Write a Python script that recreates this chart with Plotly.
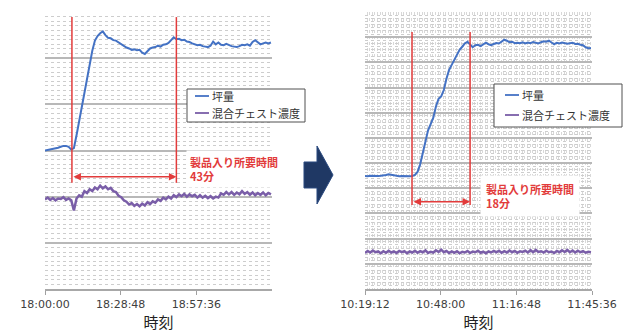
import plotly.graph_objects as go
import pandas as pd

# ---------------- data ----------------
tick_labels_left = ["18:00:00", "18:28:48", "18:57:36"]
tick_labels_right = ["10:19:12", "10:48:00", "11:16:48", "11:45:36"]
series_names = ["坪量", "混合チェスト濃度"]
axis_title = "時刻"

left_start = "2020-01-01 18:00:00"
left_end = "2020-01-01 19:26:24"
right_start = "2020-01-01 10:19:12"
right_end = "2020-01-01 11:45:36"

# basis weight (left, before), one value per minute
left_basis = [30.0, 30.1, 30.2, 30.3, 30.4, 30.6, 30.8, 31.0, 31.0, 30.8,
              30.2, 30.5, 33.3, 36.3, 39.8, 42.3, 45.5, 48.6, 51.6, 53.8,
              54.8, 55.4, 55.8, 55.0, 54.4, 54.3, 53.9, 53.8, 53.4, 53.0,
              52.6, 52.3, 52.1, 51.8, 51.9, 51.7, 51.8, 51.2, 50.9, 51.5,
              52.1, 52.3, 52.4, 52.7, 52.5, 52.9, 53.0, 53.3, 53.8, 54.5,
              54.1, 54.2, 53.9, 54.0, 53.6, 53.5, 53.2, 53.0, 52.8, 52.9,
              52.6, 52.5, 52.4, 52.7, 53.6, 53.0, 53.4, 52.9, 52.8, 53.1,
              52.8, 52.6, 52.5, 52.4, 52.6, 52.9, 52.8, 53.0, 52.7, 53.5,
              53.9, 53.4, 53.0, 53.2, 53.4, 53.2, 53.4]
# mixing chest consistency (left, before)
left_consistency = [19.4, 19.8, 19.3, 19.7, 19.2, 19.6, 19.5, 19.9, 19.3, 19.6,
                    19.2, 17.0, 19.6, 20.3, 20.0, 21.2, 20.8, 21.6, 21.2, 22.0,
                    21.6, 22.4, 21.8, 22.2, 21.6, 21.9, 21.2, 21.0, 20.2, 19.9,
                    19.2, 18.9, 18.3, 18.6, 18.0, 18.4, 17.9, 18.5, 18.1, 18.8,
                    18.4, 19.0, 18.7, 19.4, 19.1, 19.8, 19.4, 20.0, 19.6, 20.3,
                    19.9, 20.5, 20.1, 20.6, 20.0, 20.5, 20.1, 20.4, 19.8, 20.3,
                    19.8, 20.2, 19.7, 20.1, 19.6, 20.0, 19.8, 20.7, 20.4, 21.0,
                    20.5, 21.0, 20.4, 20.9, 20.5, 21.2, 20.6, 21.0, 20.4, 20.9,
                    20.3, 20.8, 20.4, 20.9, 20.3, 20.8, 20.5]

# basis weight (right, after)
right_basis = [44.9, 44.8, 45.0, 44.9, 44.8, 44.9, 45.0, 45.1, 45.3, 45.6,
               45.4, 45.1, 44.9, 44.8, 44.9, 44.8, 44.9, 44.8, 44.9, 45.3,
               46.5, 49.5, 54.0, 58.5, 63.0, 65.5, 68.0, 72.5, 75.5, 76.5,
               79.0, 83.5, 87.0, 89.0, 91.0, 93.0, 95.0, 96.2, 97.5, 98.2,
               97.2, 96.0, 96.8, 97.0, 96.5, 97.3, 97.8, 97.2, 96.8, 97.3,
               97.7, 97.5, 98.3, 99.0, 98.6, 98.0, 98.2, 97.6, 97.8, 97.6,
               98.0, 97.5, 97.9, 97.6, 98.1, 97.7, 97.5, 98.0, 98.4, 98.2,
               98.6, 97.9, 97.2, 97.8, 97.5, 97.9, 97.7, 97.4, 97.6, 97.8,
               97.3, 97.4, 97.0, 96.8, 96.0, 95.6, 95.7]
# mixing chest consistency (right, after)
right_consistency = [14.3, 15.1, 14.5, 15.3, 14.6, 14.9, 14.2, 15.0, 14.4, 15.2,
                     14.5, 14.9, 14.3, 15.1, 14.6, 15.0, 14.2, 14.9, 14.5, 15.2,
                     14.4, 15.0, 14.6, 15.3, 14.3, 14.8, 14.5, 15.4, 14.7, 15.6,
                     14.6, 15.1, 14.3, 14.9, 14.4, 15.0, 14.2, 14.8, 14.5, 15.1,
                     14.3, 14.9, 14.6, 15.2, 14.4, 14.8, 14.2, 14.9, 14.5, 15.1,
                     14.6, 15.2, 14.4, 15.0, 14.5, 15.3, 14.6, 15.1, 14.4, 15.0,
                     14.7, 15.2, 14.5, 15.4, 14.6, 15.5, 14.7, 15.0, 14.5, 15.2,
                     14.6, 14.9, 14.3, 15.1, 14.6, 15.4, 14.7, 15.5, 14.6, 15.3,
                     14.5, 15.2, 14.6, 15.0, 14.4, 14.8, 14.6]

# product-entry window markers
left_marks = ["2020-01-01 18:10:15", "2020-01-01 18:50:00"]
right_marks = ["2020-01-01 10:37:06", "2020-01-01 10:59:12"]
left_label = "製品入り所要時間<br>43分"
right_label = "製品入り所要時間<br>18分"

# ---------------- figure ----------------
W, H = 632, 336
def px(x): return x / W
def py(y): return 1 - y / H

left_x = pd.date_range(left_start, periods=len(left_basis), freq="1min")
right_x = pd.date_range(right_start, periods=len(right_basis), freq="1min")

BLUE = "#4472c4"
PURPLE = "#7a5ea8"
RED = "#e23b3b"
FONT = "Noto Sans CJK JP"

fig = go.Figure()
fig.add_trace(go.Scatter(x=left_x, y=left_basis, name=series_names[0], mode="lines",
                         line=dict(color=BLUE, width=2), xaxis="x", yaxis="y"))
fig.add_trace(go.Scatter(x=left_x, y=left_consistency, name=series_names[1], mode="lines",
                         line=dict(color=PURPLE, width=2.5), xaxis="x", yaxis="y"))
fig.add_trace(go.Scatter(x=right_x, y=right_basis, name=series_names[0], mode="lines",
                         line=dict(color=BLUE, width=2), xaxis="x2", yaxis="y2"))
fig.add_trace(go.Scatter(x=right_x, y=right_consistency, name=series_names[1], mode="lines",
                         line=dict(color=PURPLE, width=2.5), xaxis="x2", yaxis="y2"))

ydom = [py(289), py(12)]
MAJ = "#b8b8b8"
MIN = "#cdcdcd"

def xaxis(dom, start, end, labels, anchor):
    vals = pd.date_range(start, periods=len(labels), freq="1728s")
    return dict(domain=dom, type="date", range=[start, end], anchor=anchor,
                tickvals=vals, ticktext=labels, ticks="outside", ticklen=4,
                tickcolor="#a0a0a0", showline=True, linecolor="#a8a8a8", linewidth=1.5,
                showgrid=False, zeroline=False, automargin=False,
                tickfont=dict(family="DejaVu Sans", size=11, color="#404040"),
                title=dict(text=axis_title, font=dict(family=FONT, size=15, color="#222"), standoff=7))

fig.update_layout(
    width=W, height=H, margin=dict(l=0, r=0, t=0, b=0, autoexpand=False),
    paper_bgcolor="white", plot_bgcolor="white", showlegend=False,
    xaxis=xaxis([px(45), px(272)], left_start, left_end, tick_labels_left, "y"),
    xaxis2=xaxis([px(365), px(592)], right_start, right_end, tick_labels_right, "y2"),
    yaxis=dict(domain=ydom, range=[0, 60], dtick=10, showticklabels=False, ticks="",
               showgrid=True, gridcolor=MAJ, gridwidth=1.5, zeroline=False, anchor="x",
               automargin=False,
               minor=dict(dtick=1, showgrid=True, gridcolor=MIN, griddash="dot", gridwidth=1)),
    yaxis2=dict(domain=ydom, range=[0, 110], dtick=10, showticklabels=False, ticks="",
                showgrid=True, gridcolor=MAJ, gridwidth=1.5, zeroline=False, anchor="x2",
                automargin=False,
                minor=dict(dtick=1.25, showgrid=True, gridcolor=MIN, griddash="dot", gridwidth=1)),
)
fig.layout.xaxis2.minor = dict(dtick=60000, showgrid=True, gridcolor="#d8d8d8", griddash="dot", gridwidth=1)

# red marker lines
for xv in left_marks:
    fig.add_shape(type="line", xref="x", yref="y", x0=xv, x1=xv, y0=23.0, y1=58.9,
                  line=dict(color=RED, width=1.5))
for xv in right_marks:
    fig.add_shape(type="line", xref="x2", yref="y2", x0=xv, x1=xv, y0=33.4, y1=102.1,
                  line=dict(color=RED, width=1.5))

# double-headed arrows
fig.add_annotation(x=left_marks[1], y=24.3, ax=left_marks[0], ay=24.3, xref="x", yref="y",
                   axref="x", ayref="y", text="", showarrow=True, arrowside="end+start",
                   arrowhead=2, arrowsize=1, arrowwidth=1.5, arrowcolor=RED, standoff=0, startstandoff=0)
fig.add_annotation(x=right_marks[1], y=34.6, ax=right_marks[0], ay=34.6, xref="x2", yref="y2",
                   axref="x2", ayref="y2", text="", showarrow=True, arrowside="end+start",
                   arrowhead=2, arrowsize=1, arrowwidth=1.5, arrowcolor=RED, standoff=0, startstandoff=0)

# labels
fig.add_annotation(x=px(186), y=py(150), xref="paper", yref="paper", xanchor="left", yanchor="top",
                   text="<b>" + left_label + "</b>", showarrow=False, align="left",
                   bgcolor="white", borderpad=3,
                   font=dict(family=FONT, size=11, color=RED))
fig.add_annotation(x=px(480), y=py(175), xref="paper", yref="paper", xanchor="left", yanchor="top",
                   text="<b>" + right_label + "</b>", showarrow=False, align="left",
                   bgcolor="white", borderpad=5,
                   font=dict(family=FONT, size=11, color=RED))

# legend boxes (drawn from the series names / colours)
def legend_box(x0, x1, y0, y1, rows, sx0, sx1):
    fig.add_shape(type="rect", xref="paper", yref="paper", x0=px(x0), x1=px(x1),
                  y0=py(y1), y1=py(y0), fillcolor="white", line=dict(color="#505050", width=1))
    for (yy, name, col) in rows:
        fig.add_shape(type="line", xref="paper", yref="paper", x0=px(sx0), x1=px(sx1),
                      y0=py(yy), y1=py(yy), line=dict(color=col, width=1.8))
        fig.add_annotation(x=px(sx1 + 1), y=py(yy), xref="paper", yref="paper",
                           xanchor="left", yanchor="middle", text=name, showarrow=False,
                           font=dict(family=FONT, size=11, color="#333"))

legend_box(187, 305, 89, 122, [(96, series_names[0], BLUE), (113, series_names[1], PURPLE)], 195, 209)
legend_box(494, 622, 84, 127, [(95, series_names[0], BLUE), (115, series_names[1], PURPLE)], 505, 519)

# big navy arrow between panels
pts = [(304, 162), (317, 162), (317, 146), (333, 175), (317, 204), (317, 188), (304, 188)]
path = "M " + " L ".join(f"{px(a):.5f},{py(b):.5f}" for a, b in pts) + " Z"
fig.add_shape(type="path", xref="paper", yref="paper", path=path,
              fillcolor="#1f3864", line=dict(color="#2b4a80", width=1))

fig.write_html("out.html", config={"displayModeBar": False},
               post_script="document.body.style.margin='0';document.body.style.overflow='hidden';")
